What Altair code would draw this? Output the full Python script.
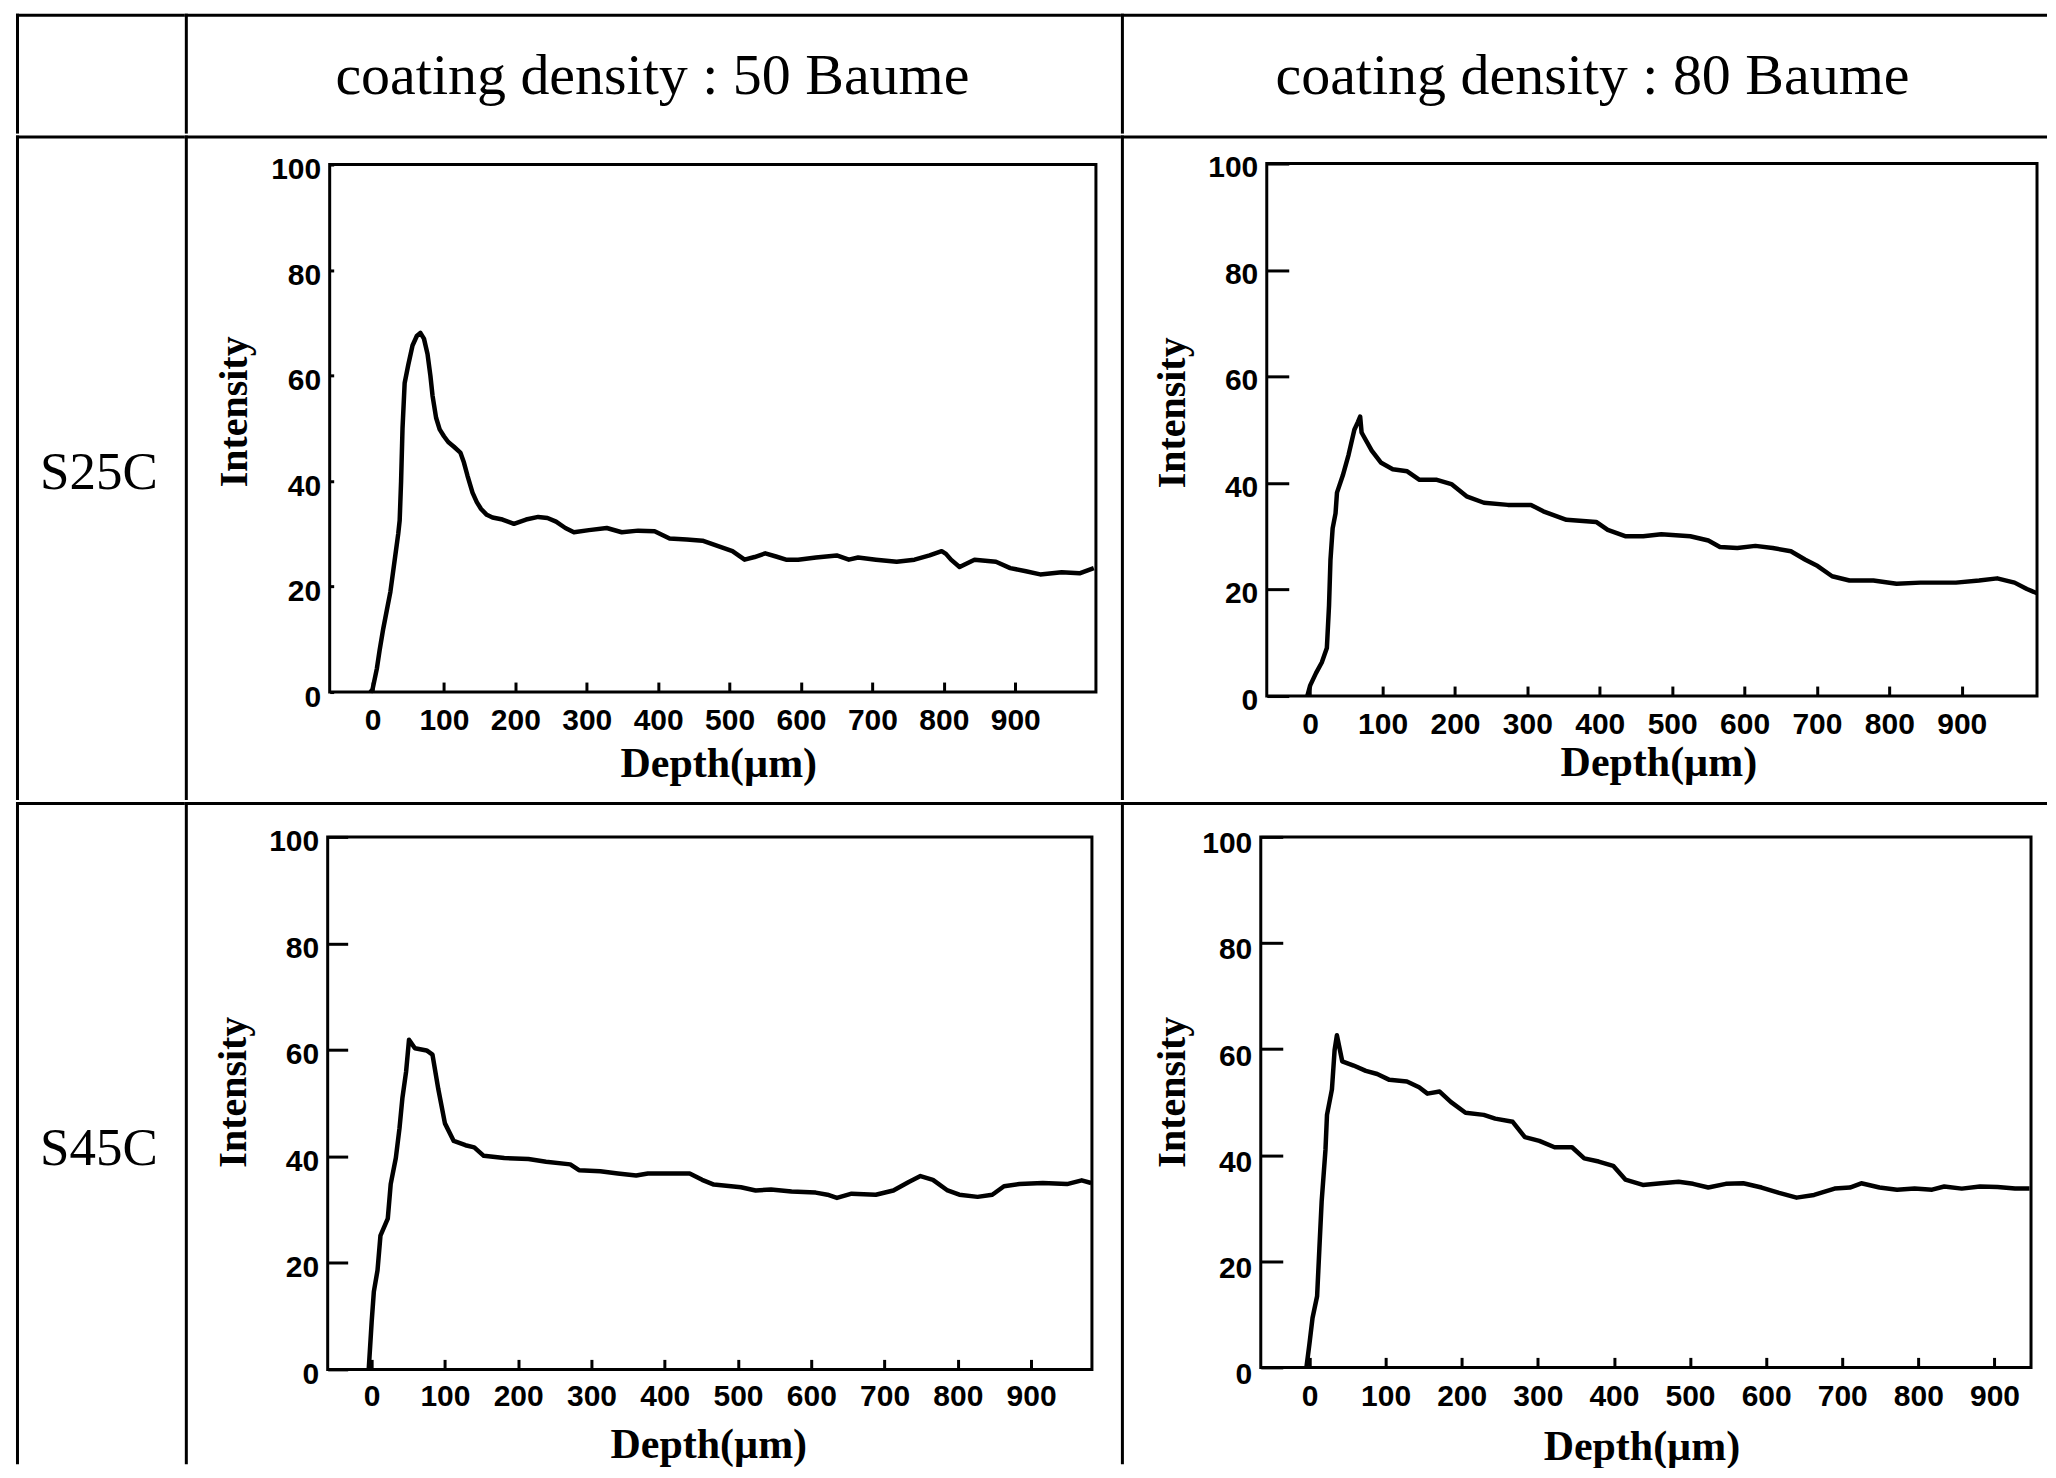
import altair as alt
import pandas as pd

# ---------------- data ----------------
col_headers = ["coating density : 50 Baume", "coating density : 80 Baume"]
row_labels = ["S25C", "S45C"]
x_title = "Depth(µm)"
y_title = "Intensity"
x_ticks = [0, 100, 200, 300, 400, 500, 600, 700, 800, 900]
y_ticks = [0, 20, 40, 60, 80, 100]

s25c_50_depth = [-3, 0, 6, 10, 15, 20, 25, 28, 32, 36, 38, 40, 42, 45, 50, 56, 62, 67, 72, 77,
                 81, 84, 89, 94, 100, 106, 114, 123, 128, 133, 140, 146, 152, 160, 168, 182, 198, 215, 232, 245,
                 257, 270, 282, 303, 328, 349, 372, 395, 416, 440, 462, 487, 504, 521, 535, 550, 565, 579, 596, 621,
                 650, 667, 680, 705, 734, 759, 780, 797, 803, 810, 822, 843, 873, 893, 915, 935, 965, 990, 1010]
s25c_50_intensity = [0, 0.5, 4.4, 8, 12, 15.5, 19, 22, 26, 30, 32.5, 40, 50, 58.6, 62, 65.7, 67.5, 68.1, 67, 64.1,
                     60, 56.2, 52, 49.8, 48.5, 47.4, 46.5, 45.4, 43.5, 41, 37.8, 36, 34.7, 33.6, 33.1, 32.7, 31.9, 32.7, 33.2, 33,
                     32.3, 31.1, 30.3, 30.7, 31.1, 30.3, 30.6, 30.5, 29.1, 28.9, 28.7, 27.5, 26.7, 25.1, 25.6, 26.3, 25.7, 25.1, 25.1, 25.5,
                     25.9, 25.1, 25.5, 25.1, 24.7, 25.1, 25.9, 26.7, 26.2, 25.1, 23.7, 25.1, 24.7, 23.5, 22.9, 22.3, 22.7, 22.5, 23.5]

s25c_80_depth = [-4, 0, 8, 16, 23, 26, 28, 31, 35, 37, 45, 53, 61, 66, 69, 71, 75, 85, 98, 114,
                 134, 151, 175, 195, 216, 240, 273, 305, 322, 354, 395, 411, 436, 460, 485, 525, 550, 566, 590, 615,
                 639, 664, 684, 701, 721, 745, 778, 810, 843, 892, 924, 949, 973, 990, 1004]
s25c_80_intensity = [0, 2, 4.3, 6.3, 9, 17, 25.6, 31.5, 34.3, 38.2, 41.4, 45.3, 50, 51.5, 52.5, 49.5, 48.5, 46.1, 43.8, 42.6,
                     42.2, 40.6, 40.6, 39.8, 37.5, 36.3, 35.9, 35.9, 34.7, 33.1, 32.7, 31.2, 30, 30, 30.4, 30, 29.2, 28, 27.8, 28.2,
                     27.8, 27.2, 25.6, 24.4, 22.5, 21.7, 21.7, 21.1, 21.3, 21.3, 21.7, 22.1, 21.3, 20.1, 19.3]

s45c_50_depth = [-4, 0, 3, 8, 12, 22, 26, 33, 38, 42, 47, 51, 59, 75, 83, 91, 100, 112, 128, 140,
                 153, 181, 214, 238, 271, 283, 312, 336, 361, 377, 434, 451, 467, 504, 524, 545, 573, 606, 622, 635,
                 655, 688, 712, 733, 749, 766, 786, 802, 827, 847, 863, 884, 916, 949, 969, 982]
s45c_50_intensity = [0, 8.9, 14.6, 18.6, 25.1, 28.3, 34.8, 39.7, 45.3, 51, 55.9, 61.9, 60.3, 59.9, 59.1, 52.6, 46.2, 42.9, 42.1, 41.7,
                     40.1, 39.7, 39.5, 39, 38.5, 37.4, 37.2, 36.8, 36.4, 36.8, 36.8, 35.6, 34.7, 34.2, 33.6, 33.8, 33.4, 33.2, 32.8, 32.2,
                     33, 32.8, 33.6, 35.2, 36.3, 35.6, 33.6, 32.8, 32.4, 32.8, 34.4, 34.8, 35, 34.8, 35.5, 35]

s45c_80_depth = [-4, 0, 4, 10, 13, 16, 21, 23, 29.5, 33, 36, 43, 58, 74, 89, 105, 128, 144, 155, 171,
                 186, 205, 229, 244, 267, 283, 302, 322, 345, 361, 380, 399, 415, 438, 462, 485, 504, 524, 547, 570,
                 594, 617, 640, 663, 690, 710, 725, 749, 772, 795, 818, 834, 857, 881, 904, 927, 946]
s45c_80_intensity = [0, 4.5, 9.3, 13.4, 22.4, 31.3, 41, 47.6, 52.4, 59.8, 62.6, 57.7, 56.9, 55.9, 55.3, 54.2, 53.9, 52.8, 51.6, 52,
                     50, 48, 47.6, 46.9, 46.3, 43.4, 42.7, 41.5, 41.5, 39.4, 38.8, 38, 35.4, 34.4, 34.7, 35, 34.6, 33.9, 34.6, 34.7,
                     33.9, 32.9, 32, 32.5, 33.7, 33.9, 34.7, 33.9, 33.5, 33.7, 33.5, 34.1, 33.7, 34.1, 34, 33.7, 33.7]

# ---------------- layout ----------------
COL_W = [169, 937, 927]
ROW_H = [120, 665, 663]
LINE_W = 3
HALF = LINE_W / 2
LABEL_FONT = "Liberation Sans"
SERIF = "Liberation Serif"
TICK_FONT = 30


def cell_borders(w, h):
    base = alt.Chart(alt.InlineData(values=[{"cell": 0}]))
    top = base.mark_rule(color="black", strokeWidth=LINE_W, strokeCap="square").encode(
        x=alt.value(HALF), x2=alt.value(w - HALF), y=alt.value(HALF))
    left = base.mark_rule(color="black", strokeWidth=LINE_W, strokeCap="square").encode(
        x=alt.value(HALF), y=alt.value(HALF), y2=alt.value(h - HALF))
    return [top, left]


def empty_cell(w, h):
    return alt.layer(*cell_borders(w, h)).properties(width=w, height=h)


def text_cell(w, h, text, cx, by, size):
    lbl = alt.Chart(alt.InlineData(values=[{"label": text}])).mark_text(
        font=SERIF, fontSize=size, align="center", baseline="alphabetic", color="black"
    ).encode(text="label:N", x=alt.value(cx), y=alt.value(by))
    return alt.layer(*cell_borders(w, h), lbl).properties(width=w, height=h)


def plot_cell(w, h, depth, inten, p):
    df = pd.DataFrame({"depth": depth, "intensity": inten})
    xs = alt.Scale(domain=p["xdom"], range=p["xr"], nice=False, zero=False)
    ys = alt.Scale(domain=[0, 100], range=[p["yb"], p["yt"]], nice=False, zero=False)
    x_axis_y = p["yb"] - p["xtick"]
    y_axis_x = p["xr"][0] + p["ytick"]
    xaxis = alt.Axis(
        values=x_ticks, orient="bottom", offset=x_axis_y - h, domain=False, grid=False,
        ticks=True, tickSize=p["xtick"], tickWidth=3, tickColor="black",
        labelFont=LABEL_FONT, labelFontWeight="bold", labelFontSize=TICK_FONT, labelColor="black",
        labelPadding=p["xpad"], labelFlush=False, labelOverlap=False,
        title=x_title, titleFont=SERIF, titleFontWeight="bold", titleFontSize=42, titleColor="black",
        titleX=p["tx"], titleY=p["tby"] - x_axis_y, titleAlign="center", titleBaseline="alphabetic",
    )
    yaxis = alt.Axis(
        values=y_ticks, orient="left", offset=-y_axis_x, domain=False, grid=False,
        ticks=True, tickSize=p["ytick"], tickWidth=3, tickColor="black",
        labelFont=LABEL_FONT, labelFontWeight="bold", labelFontSize=TICK_FONT, labelColor="black",
        labelPadding=p["ypad"], labelOffset=p["yoff"], labelFlush=False, labelOverlap=False,
        title=y_title, titleFont=SERIF, titleFontWeight="bold", titleFontSize=40, titleColor="black",
        titleX=p["ix"] + 1 - y_axis_x, titleY=p["iy"], titleAngle=270, titleAlign="center",
        titleBaseline="middle",
    )
    frame = alt.Chart(alt.InlineData(values=[{"frame": 0}])).mark_rect(
        filled=False, stroke="black", strokeWidth=3
    ).encode(
        x=alt.datum(p["xdom"][0], type="quantitative", scale=xs, axis=xaxis),
        x2=alt.datum(p["xdom"][1]),
        y=alt.datum(0, type="quantitative", scale=ys, axis=yaxis),
        y2=alt.datum(100),
    )
    line = alt.Chart(df).mark_line(color="black", strokeWidth=4.5, strokeJoin="round").encode(
        x=alt.X("depth:Q", scale=xs, axis=xaxis),
        y=alt.Y("intensity:Q", scale=ys, axis=yaxis),
    )
    return alt.layer(*cell_borders(w, h), frame, line).properties(width=w, height=h)


P1 = dict(xdom=[-60, 1013], xr=[145, 912], yb=557, yt=29, xtick=10, ytick=4, xpad=13, ypad=9, yoff=5,
          tx=534, tby=642, ix=48.5, iy=276)
P2 = dict(xdom=[-60, 1004], xr=[146, 917], yb=561, yt=28, xtick=10, ytick=22, xpad=13, ypad=9, yoff=4,
          tx=538, tby=641, ix=51, iy=277)
P3 = dict(xdom=[-60, 983], xr=[143, 908], yb=568, yt=35, xtick=10, ytick=20, xpad=12, ypad=9, yoff=5,
          tx=524, tby=656, ix=48, iy=290)
P4 = dict(xdom=[-64, 948], xr=[140, 911], yb=566, yt=35, xtick=10, ytick=22, xpad=14, ypad=9, yoff=7,
          tx=521, tby=658, ix=51, iy=290)

row0 = alt.hconcat(
    empty_cell(COL_W[0], ROW_H[0]),
    text_cell(COL_W[1], ROW_H[0], col_headers[0], 468, 80, 58),
    text_cell(COL_W[2], ROW_H[0], col_headers[1], 472, 80, 58),
    spacing=0, bounds="flush",
)
row1 = alt.hconcat(
    text_cell(COL_W[0], ROW_H[1], row_labels[0], 83, 354, 53),
    plot_cell(COL_W[1], ROW_H[1], s25c_50_depth, s25c_50_intensity, P1),
    plot_cell(COL_W[2], ROW_H[1], s25c_80_depth, s25c_80_intensity, P2),
    spacing=0, bounds="flush",
)
row2 = alt.hconcat(
    text_cell(COL_W[0], ROW_H[2], row_labels[1], 83, 363, 53),
    plot_cell(COL_W[1], ROW_H[2], s45c_50_depth, s45c_50_intensity, P3),
    plot_cell(COL_W[2], ROW_H[2], s45c_80_depth, s45c_80_intensity, P4),
    spacing=0, bounds="flush",
)

chart = alt.vconcat(row0, row1, row2, spacing=0).properties(
    padding={"left": 7, "top": 4, "right": 0, "bottom": 0},
    background="white",
).configure_view(stroke=None)

chart.save("out.html", embed_options={"renderer": "svg", "actions": False})
